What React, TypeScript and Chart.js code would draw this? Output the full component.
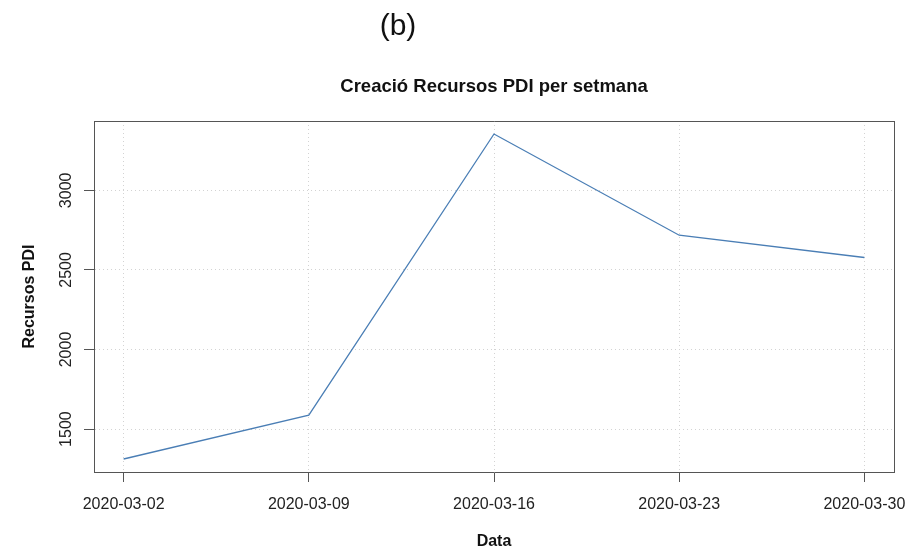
import React, { useEffect, useRef } from "react";
import { Chart, registerables } from "chart.js";

Chart.register(...registerables);

// ---- data ----
const weekLabels: string[] = ["2020-03-02", "2020-03-09", "2020-03-16", "2020-03-23", "2020-03-30"];
const dayOffsets: number[] = [0, 7, 14, 21, 28];
const recursosPDI: number[] = [1312, 1588, 3354, 2718, 2578];
const yTickValues: number[] = [1500, 2000, 2500, 3000];

const chartTitle = "Creació Recursos PDI per setmana";
const panelLabel = "(b)";
const xTitle = "Data";
const yTitle = "Recursos PDI";

const FONT = '"Liberation Sans", Arial, Helvetica, sans-serif';

const panelLabelPlugin = {
  id: "panelLabel",
  afterDraw(chart: any) {
    const ctx = chart.ctx;
    ctx.save();
    ctx.font = `30px ${FONT}`;
    ctx.fillStyle = "#111";
    ctx.textAlign = "center";
    ctx.textBaseline = "middle";
    ctx.fillText(panelLabel, 398, 26.5);
    ctx.restore();
  },
};

const zeroPad = (scale: any) => {
  scale.paddingLeft = 0;
  scale.paddingRight = 0;
  scale.paddingTop = 0;
  scale.paddingBottom = 0;
};

export default function App() {
  const ref = useRef<HTMLCanvasElement | null>(null);

  useEffect(() => {
    if (!ref.current) return;
    Chart.defaults.font.family = FONT;
    const span = dayOffsets[dayOffsets.length - 1] - dayOffsets[0];
    const vmin = Math.min(...recursosPDI);
    const vmax = Math.max(...recursosPDI);
    const vr = vmax - vmin;

    const chart = new Chart(ref.current, {
      type: "line",
      data: {
        datasets: [
          {
            data: dayOffsets.map((d, i) => ({ x: d, y: recursosPDI[i] })),
            borderColor: "#4A7EB5",
            borderWidth: 1.3,
            pointRadius: 0,
            tension: 0,
            fill: false,
          },
        ],
      },
      plugins: [panelLabelPlugin],
      options: {
        animation: false,
        responsive: false,
        layout: { padding: { left: 0, right: 13, top: 0, bottom: 0 } },
        plugins: {
          legend: { display: false },
          tooltip: { enabled: false },
          title: {
            display: true,
            text: chartTitle,
            fullSize: false,
            position: "top",
            align: "center",
            color: "#111",
            font: { size: 18.5, weight: "bold", family: FONT, lineHeight: 1.2 },
            padding: { top: 76, bottom: 22.8 },
          },
        },
        scales: {
          x: {
            type: "linear",
            position: "bottom",
            min: dayOffsets[0] - 0.04 * span,
            max: dayOffsets[dayOffsets.length - 1] + 0.04 * span,
            afterBuildTicks: (scale: any) => {
              scale.ticks = dayOffsets.map((v) => ({ value: v }));
            },
            afterFit: (scale: any) => {
              scale.height = 78;
              zeroPad(scale);
            },
            ticks: {
              autoSkip: false,
              maxRotation: 0,
              minRotation: 0,
              padding: 13,
              color: "#222",
              font: { size: 16, family: FONT },
              callback: (v: any) => {
                const i = dayOffsets.indexOf(Number(v));
                return i >= 0 ? weekLabels[i] : "";
              },
            },
            grid: {
              color: "#D3D3D3",
              lineWidth: 1,
              tickColor: "#555",
              tickLength: 10,
              tickBorderDash: [],
              drawTicks: true,
            },
            border: { display: true, color: "#555", width: 1, dash: [1, 3] },
            title: {
              display: true,
              text: xTitle,
              color: "#111",
              font: { size: 16, weight: "bold", family: FONT, lineHeight: 1 },
              padding: { top: 0, bottom: 0 },
            },
          },
          y: {
            type: "linear",
            position: "left",
            min: vmin - 0.04 * vr,
            max: vmax + 0.04 * vr,
            afterBuildTicks: (scale: any) => {
              scale.ticks = yTickValues.map((v) => ({ value: v }));
            },
            afterFit: (scale: any) => {
              scale.width = 94;
              zeroPad(scale);
            },
            ticks: {
              minRotation: 90,
              maxRotation: 90,
              crossAlign: "center",
              padding: 0,
              color: "#222",
              font: { size: 16, family: FONT },
              callback: (v: any) => String(v),
            },
            grid: {
              color: "#D3D3D3",
              lineWidth: 1,
              tickColor: "#555",
              tickLength: 10,
              tickBorderDash: [],
              drawTicks: true,
            },
            border: { display: true, color: "#555", width: 1, dash: [1, 3] },
            title: {
              display: true,
              text: yTitle,
              color: "#111",
              font: { size: 16, weight: "bold", family: FONT, lineHeight: 1 },
              padding: { top: 22, bottom: 0 },
            },
          },
          x2: {
            type: "linear",
            position: "top",
            display: true,
            ticks: { display: false },
            grid: { display: false, drawTicks: false },
            border: { display: true, color: "#555", width: 1 },
            afterFit: (scale: any) => {
              scale.height = 0;
              zeroPad(scale);
            },
          },
          y2: {
            type: "linear",
            position: "right",
            display: true,
            ticks: { display: false },
            grid: { display: false, drawTicks: false },
            border: { display: true, color: "#555", width: 1 },
            afterFit: (scale: any) => {
              scale.width = 0;
              zeroPad(scale);
            },
          },
        },
      },
    } as any);

    return () => chart.destroy();
  }, []);

  return (
    <div style={{ position: "fixed", left: 0, top: 0, width: 907, height: 550, background: "#fff" }}>
      <canvas ref={ref} width={907} height={550} style={{ width: 907, height: 550, display: "block" }} />
    </div>
  );
}
